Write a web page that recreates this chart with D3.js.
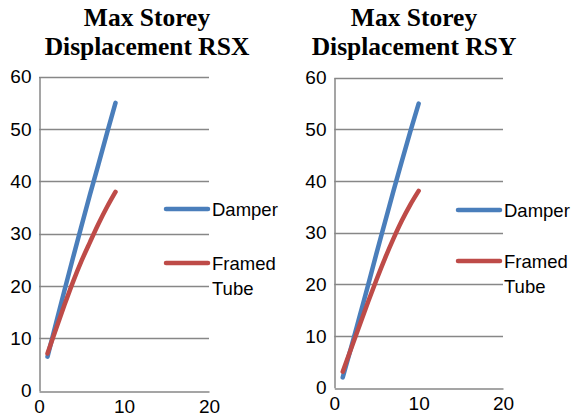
<!DOCTYPE html>
<html>
<head>
<meta charset="utf-8">
<script src="https://cdn.jsdelivr.net/npm/d3@7"></script>
<style>
  html, body { margin: 0; padding: 0; background: #fff; }
  svg { display: block; }
</style>
</head>
<body>
<svg id="chart" width="576" height="418"></svg>
<script>
// Storey numbers and peak displacements (mm) for each response-spectrum case
const storeysRSX = [1, 2, 3, 4, 5, 6, 7, 8, 9];
const damperRSX  = [6.5, 12.9, 19.2, 25.4, 31.5, 37.5, 43.3, 49.2, 55];
const framedRSX  = [7.1, 11.8, 16.4, 20.8, 24.8, 28.4, 31.9, 35.1, 38];

const storeysRSY = [1, 2, 3, 4, 5, 6, 7, 8, 9, 10];
const damperRSY  = [2, 7.8, 13.8, 19.8, 26, 32, 38, 43.8, 49.5, 55];
const framedRSY  = [3.1, 7.6, 12.1, 16.6, 20.9, 25, 28.8, 32.3, 35.4, 38.1];

const yTicks = [0, 10, 20, 30, 40, 50, 60];
const xTicks = [0, 10, 20];
const seriesNames = ["Damper", "Framed Tube"];
const seriesColors = ["#4A7EBB", "#BE4B48"];

const svg = d3.select("#chart");
const gridColor = "#878787";
const labelFont = "'Liberation Sans', Arial, sans-serif";

function drawPanel(cfg) {
  const x = d3.scaleLinear().domain([0, 20]).range([cfg.left, cfg.right]);
  const y = d3.scaleLinear().domain([0, 60]).range([cfg.bottom, cfg.top]);
  const g = svg.append("g");

  // title
  const t = g.append("text")
    .attr("x", cfg.titleX)
    .attr("text-anchor", "middle")
    .attr("font-family", "'Liberation Serif', 'Times New Roman', serif")
    .attr("font-weight", "bold")
    .attr("font-size", 25.5)
    .attr("fill", "#000");
  t.append("tspan").attr("x", cfg.titleX).attr("y", 26).text("Max Storey");
  t.append("tspan").attr("x", cfg.titleX).attr("y", 55).text(cfg.title);

  // horizontal gridlines
  g.append("g").selectAll("line").data(yTicks.filter(d => d > 0)).join("line")
    .attr("x1", x(0)).attr("x2", x(20))
    .attr("y1", d => Math.round(y(d)) + 0.5).attr("y2", d => Math.round(y(d)) + 0.5)
    .attr("stroke", gridColor).attr("stroke-width", 1.3);

  // y axis
  const yAxis = g.append("g")
    .attr("transform", `translate(${Math.round(x(0)) + 0.5},0)`)
    .call(d3.axisLeft(y).tickValues(yTicks).tickSize(0).tickPadding(8).tickFormat(d3.format("d")));
  yAxis.select(".domain").attr("stroke", gridColor).attr("stroke-width", 1.5);
  yAxis.selectAll("text").attr("font-family", labelFont).attr("font-size", 19).attr("fill", "#000");

  // x axis
  const xAxis = g.append("g")
    .attr("transform", `translate(0,${Math.round(y(0)) + 0.5})`)
    .call(d3.axisBottom(x).tickValues(xTicks).tickSize(0).tickPadding(8).tickFormat(d3.format("d")));
  xAxis.select(".domain").attr("stroke", gridColor).attr("stroke-width", 1.5);
  xAxis.selectAll("text").attr("font-family", labelFont).attr("font-size", 19).attr("fill", "#000");

  // series lines
  const line = d3.line()
    .x(d => x(d[0])).y(d => y(d[1]))
    .curve(d3.curveMonotoneX);
  cfg.series.forEach((vals, i) => {
    g.append("path")
      .datum(cfg.storeys.map((s, k) => [s, vals[k]]))
      .attr("d", line)
      .attr("fill", "none")
      .attr("stroke", seriesColors[i])
      .attr("stroke-width", 4.5)
      .attr("stroke-linecap", "round")
      .attr("stroke-linejoin", "round");
  });

  // legend
  const leg = g.append("g");
  seriesNames.forEach((name, i) => {
    const ly = cfg.legendY[i];
    leg.append("line")
      .attr("x1", cfg.legendX).attr("x2", cfg.legendX + 42)
      .attr("y1", ly).attr("y2", ly)
      .attr("stroke", seriesColors[i]).attr("stroke-width", 4.5)
      .attr("stroke-linecap", "round");
    const words = name.split(" ");
    const txt = leg.append("text")
      .attr("font-family", labelFont).attr("font-size", 18.5).attr("fill", "#000");
    words.forEach((w, k) => {
      txt.append("tspan")
        .attr("x", cfg.legendX + 46)
        .attr("y", ly + 6.5 + k * 25)
        .text(w);
    });
  });
}

drawPanel({
  title: "Displacement RSX", titleX: 147,
  left: 39, right: 209, top: 76.7, bottom: 390.7,
  storeys: storeysRSX, series: [damperRSX, framedRSX],
  legendX: 166, legendY: [209, 263]
});

drawPanel({
  title: "Displacement RSY", titleX: 414,
  left: 334.3, right: 503, top: 77.7, bottom: 387.7,
  storeys: storeysRSY, series: [damperRSY, framedRSY],
  legendX: 458, legendY: [210, 261]
});
</script>
</body>
</html>
